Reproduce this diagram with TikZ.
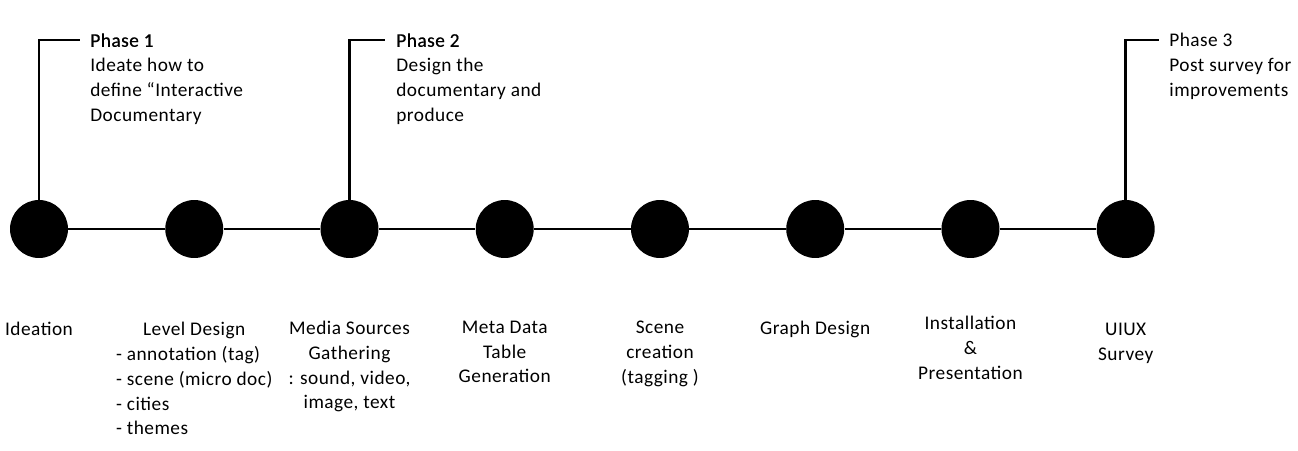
\documentclass[tikz,border=0pt]{standalone}
\usepackage{fontspec}
\setmainfont{Carlito}[LetterSpace=2.5]
\newcommand{\phasetitle}[1]{{\addfontfeature{FakeBold=0.6}#1}}
\usetikzlibrary{positioning}

\begin{document}
\begin{tikzpicture}[x=0.02cm, y=-0.02cm,
  node distance=1.9314cm,
  every node/.style={font=\fontsize{11}{14.2}\selectfont, inner sep=0pt},
  dot/.style={circle, fill=black, minimum size=1.16cm},
  tline/.style={line width=1.1pt},
  thinline/.style={line width=0.6pt},
  callout/.style={line width=1.7pt},
  phase/.style={anchor=north west, align=left},
  stage/.style={align=center}
]
\useasboundingbox (0,0) rectangle (1298,450);

% timeline dots
\node[dot] (d1) at (39,229) {};
\node[dot, right=of d1] (d2) {};
\node[dot, right=of d2] (d3) {};
\node[dot, right=of d3] (d4) {};
\node[dot, right=of d4] (d5) {};
\node[dot, right=of d5] (d6) {};
\node[dot, right=of d6] (d7) {};
\node[dot, right=of d7] (d8) {};

\draw[tline] (d1) -- (d2);
\draw[tline] (d2) -- (d3);
\draw[tline] (d3) -- (d4);
\draw[thinline] (d4) -- (d5);
\draw[tline] (d5) -- (d6);
\draw[tline] (d6) -- (d7);
\draw[tline] (d7) -- (d8);

% phases
\coordinate (k1) at (80,40);
\coordinate (k2) at (385,40);
\coordinate (k3) at (1159,40);
\node[phase] (ph1) at (90,33) {\phasetitle{Phase 1}\\Ideate how to\\define “Interactive\\Documentary};
\node[phase] (ph2) at (396,33) {\phasetitle{Phase 2}\\Design the\\documentary and\\produce};
\node[phase] (ph3) at (1169,33) {Phase 3\\Post survey for\\improvements};
\draw[callout] (d1.north) |- (k1);
\draw[callout] (d3.north) |- (k2);
\draw[callout] (d8.north) |- (k3);

% stages
\node[stage, below=1.26cm of d1] (s1) {Ideation};
\node[below=1.18cm of d2] (s2) {\begin{tabular}{@{}l@{}}
  \multicolumn{1}{@{}c@{}}{Level Design}\\
  - annotation (tag)\\
  - scene (micro doc)\\
  - cities\\
  - themes
\end{tabular}};
\node[stage, below=1.24cm of d3] (s3) {Media Sources\\Gathering\\: sound, video,\\image, text};
\node[stage, below=1.24cm of d4] (s4) {Meta Data\\Table\\Generation};
\node[stage, below=1.24cm of d5] (s5) {Scene\\creation\\(tagging )};
\node[stage, below=1.24cm of d6] (s6) {Graph Design};
\node[stage, below=1.14cm of d7] (s7) {Installation\\\&\\Presentation};
\node[stage, below=1.28cm of d8] (s8) {UIUX\\Survey};
\end{tikzpicture}
\end{document}
